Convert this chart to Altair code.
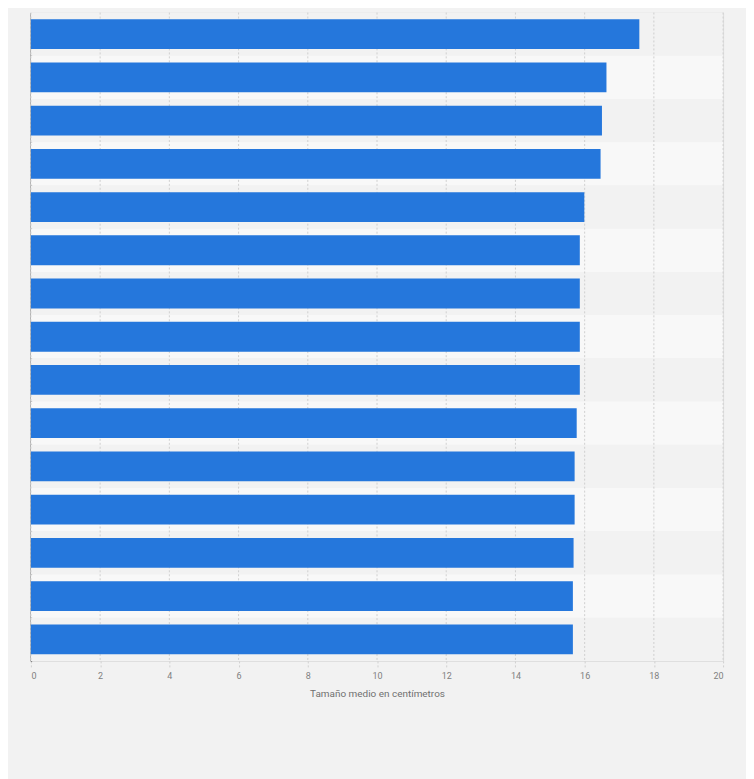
import altair as alt
import pandas as pd

# Categorías (las etiquetas no se muestran en la imagen original)
categorias = [f"Posición {i}" for i in range(1, 16)]
# Tamaño medio en centímetros
valores = [17.58, 16.63, 16.5, 16.46, 15.99, 15.86, 15.86, 15.86, 15.86,
           15.77, 15.71, 15.71, 15.68, 15.66, 15.66]
marcas_x = [0, 2, 4, 6, 8, 10, 12, 14, 16, 18, 20]

df = pd.DataFrame({"categoria": categorias, "valor": valores})
df["fila"] = ["par" if i % 2 else "impar" for i in range(len(categorias))]
df_grid = pd.DataFrame({"t": marcas_x})

escala_x = alt.Scale(domain=[0, 20], nice=False)

# Bandas alternas de fondo
bandas = alt.Chart(df).mark_rect().encode(
    y=alt.Y("categoria:N", sort=categorias, axis=None,
            scale=alt.Scale(paddingInner=0, paddingOuter=0)),
    x=alt.datum(0, scale=escala_x),
    x2=alt.datum(20),
    color=alt.Color("fila:N", legend=None,
                    scale=alt.Scale(domain=["impar", "par"],
                                    range=["#f2f2f2", "#f8f8f8"])),
)

# Líneas de cuadrícula discontinuas
rejilla = alt.Chart(df_grid).mark_rule(
    color="#d0d0d0", strokeDash=[2, 2], strokeWidth=1
).encode(x=alt.X("t:Q", scale=escala_x))

barras = alt.Chart(df).mark_bar(color="#2577dc").encode(
    y=alt.Y("categoria:N", sort=categorias,
            scale=alt.Scale(paddingInner=0.31, paddingOuter=0.155),
            axis=alt.Axis(title=None, labels=False, ticks=False,
                          domain=True, domainColor="#333333",
                          domainWidth=1.5, grid=False)),
    x=alt.X("valor:Q", scale=escala_x,
            axis=alt.Axis(title="Tamaño medio en centímetros",
                          values=marcas_x, grid=False, domain=False,
                          tickColor="#d0d0d0", tickDash=[2, 2], tickSize=7,
                          labelPadding=4, labelFontSize=9,
                          labelColor="#808080", titleFontSize=10,
                          titleFontWeight="normal", titleColor="#707070",
                          titlePadding=8)),
    tooltip=["categoria", "valor"],
)

chart = alt.layer(bandas, rejilla, barras).resolve_scale(
    y="independent"
).properties(
    width=695,
    height=651,
    background="#f2f2f2",
    padding={"left": 22, "top": 2, "right": 22, "bottom": 80},
).configure_view(
    stroke=None
).configure(
    font="Roboto"
)

chart.save("out.html", embed_options={"renderer": "svg", "actions": False})
